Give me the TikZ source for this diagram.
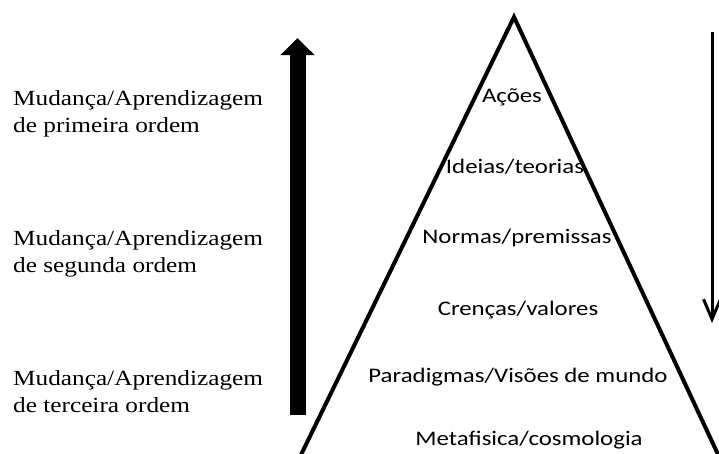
\documentclass[tikz,border=0pt]{standalone}
\usepackage{fontspec}
\setmainfont{Liberation Serif}[FakeStretch=1.17]
\newfontfamily\levelfont{Carlito}[FakeStretch=1.2]
\usetikzlibrary{arrows.meta, positioning}

\begin{document}
\begin{tikzpicture}[x=1pt, y=-1pt,
    level/.style={font=\levelfont\fontsize{20.7}{24}\selectfont, inner sep=0pt, anchor=base},
    order/.style={font=\fontsize{21.6}{27}\selectfont, align=left, inner sep=0pt, anchor=base west}]
  \clip (0,0) rectangle (719,453);
  % pyramid, open at the bottom
  \coordinate (apex) at (514,17);
  \coordinate (baseL) at (297,463);
  \coordinate (baseR) at (722,463);
  \draw[line width=4pt, line join=miter] (baseL) -- (apex) -- (baseR);
  % levels inside the pyramid
  \node[level] (acoes)   at (512,102) {Ações};
  \node[level] (ideias)  at (515,173) {Ideias/teorias};
  \node[level] (normas)  at (517,243) {Normas/premissas};
  \node[level] (crencas) at (518,315) {Crenças/valores};
  \node[level] (parad)   at (518,382) {Paradigmas/Visões de mundo};
  \node[level] (metaf)   at (529,445) {Metafisica/cosmologia};
  % orders of change (base = last line)
  \node[order] (primeira) at (13,132) {Mudança/Aprendizagem\\de primeira ordem};
  \node[order] (segunda)  at (13,272) {Mudança/Aprendizagem\\de segunda ordem};
  \node[order] (terceira) at (13,412) {Mudança/Aprendizagem\\de terceira ordem};
  % thick arrow going up
  \coordinate (upfoot) at (297.5,415);
  \coordinate (uptip) at (297.5,38);
  \draw[line width=16pt, -{Triangle[length=17pt, width=33pt]}] (upfoot) -- (uptip);
  % thin arrow going down
  \coordinate (downtop) at (712,32);
  \coordinate (downtip) at (712,323);
  \draw[line width=3pt, -{Straight Barb[length=20pt, width=17pt]}] (downtop) -- (downtip);
\end{tikzpicture}
\end{document}
